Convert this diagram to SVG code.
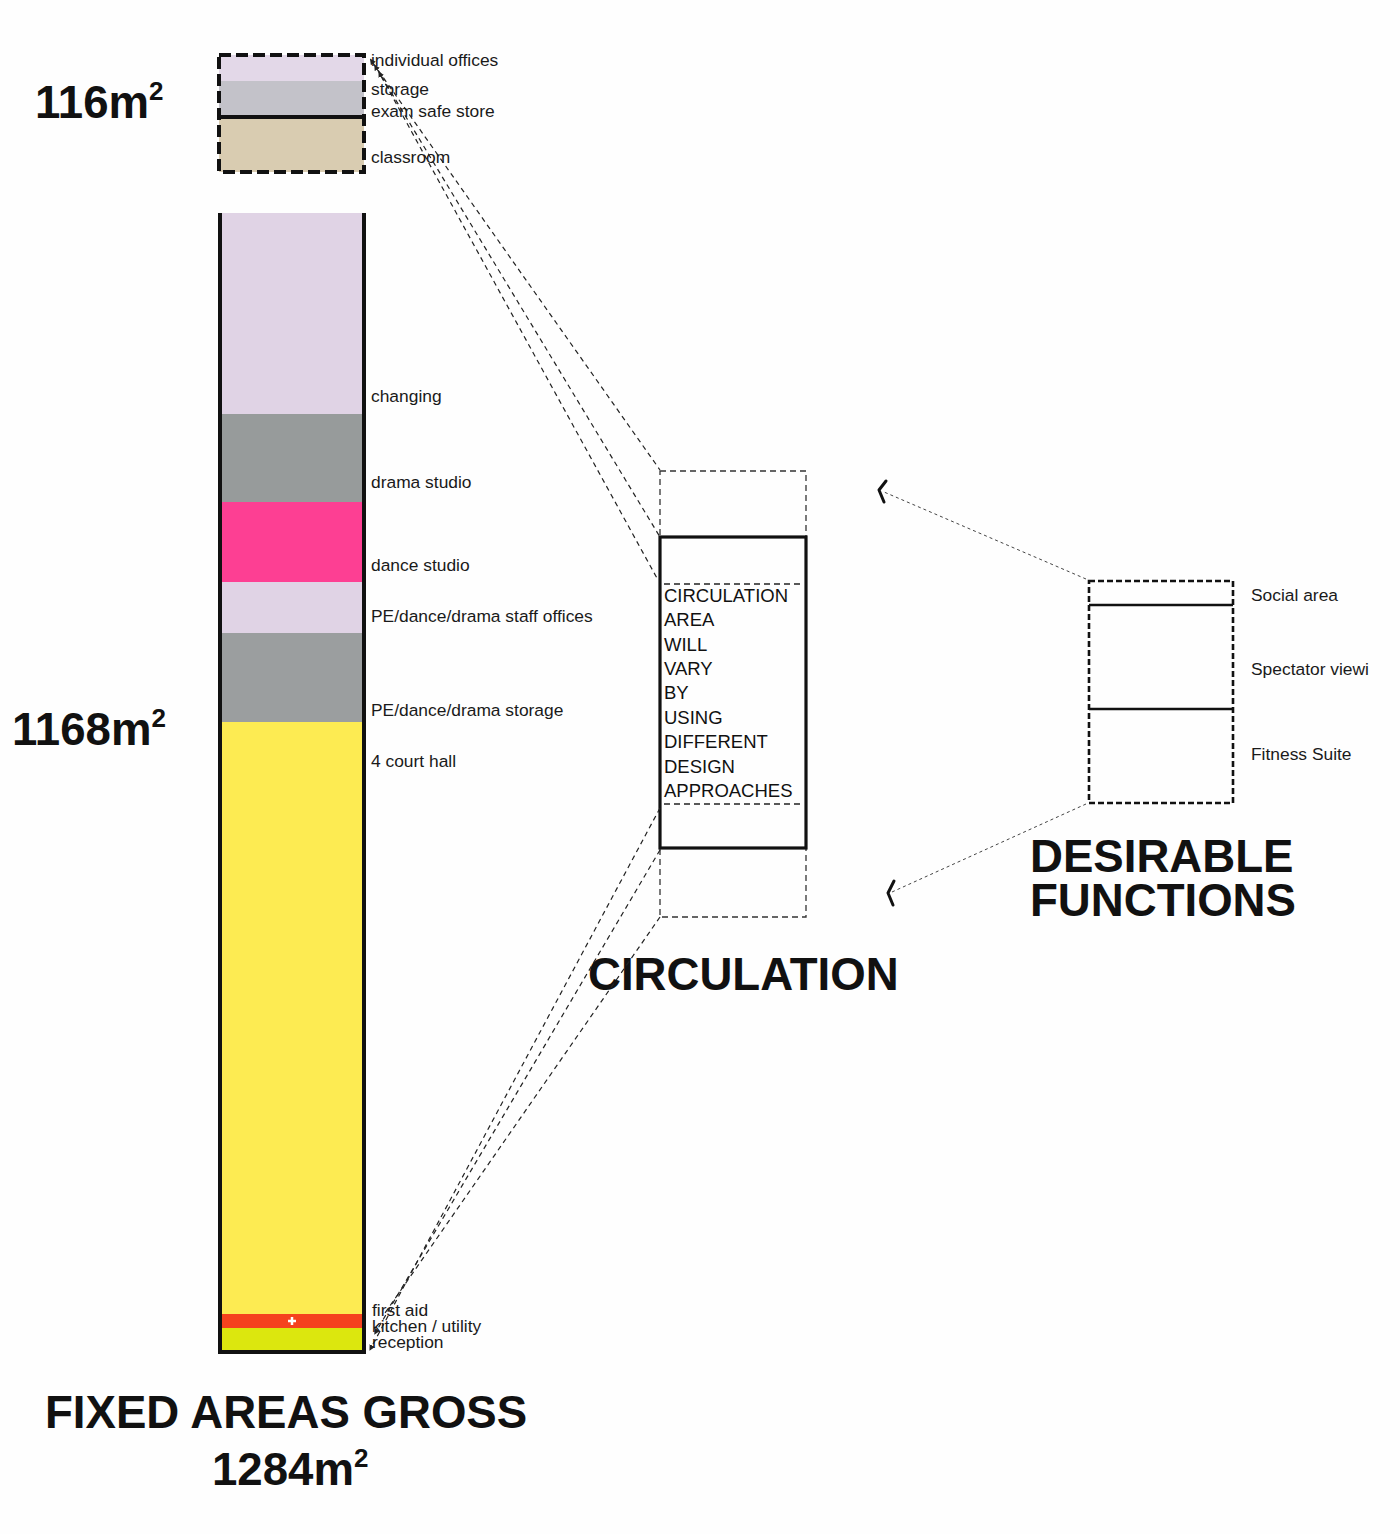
<svg xmlns="http://www.w3.org/2000/svg" width="1400" height="1534" viewBox="0 0 1400 1534">
<defs>
<style>
.lbl{font-family:"Liberation Sans",Arial,sans-serif;font-size:17.4px;fill:#1a1a1a}
.circ{font-family:"Liberation Sans",Arial,sans-serif;font-size:18.5px;fill:#111}
.big{font-family:"Liberation Sans",Arial,sans-serif;font-weight:bold;font-size:45.6px;fill:#111}
.sup{font-size:26px}
.con{fill:none;stroke:#222;stroke-width:1.2;stroke-dasharray:5 4}
.con2{fill:none;stroke:#444;stroke-width:1;stroke-dasharray:3 3}
.chev{fill:none;stroke:#111;stroke-width:3;stroke-linecap:round;stroke-linejoin:round}
</style>
<marker id="ah" viewBox="0 0 10 10" refX="1" refY="5" markerWidth="5" markerHeight="5" orient="auto-start-reverse">
<path d="M0,0 L10,5 L0,10 z" fill="#222"/>
</marker>
</defs>
<rect width="1400" height="1534" fill="#fefefe"/>

<g id="optional-areas">
<rect x="219" y="55" width="145" height="26" fill="#e3d8e8"/>
<rect x="219" y="81" width="145" height="36" fill="#c3c2c9"/>
<rect x="219" y="117" width="145" height="55" fill="#d9ccb1"/>
<rect x="219" y="55" width="145" height="117" fill="none" stroke="#111" stroke-width="4" stroke-dasharray="12 5"/>
<line x1="219" y1="117" x2="364" y2="117" stroke="#111" stroke-width="4"/>
<text class="lbl" x="371" y="66">individual offices</text>
<text class="lbl" x="371" y="95">storage</text>
<text class="lbl" x="371" y="117">exam safe store</text>
<text class="lbl" x="371" y="163">classroom</text>
<text class="big" x="35" y="118" font-size="44">116m<tspan class="sup" dy="-18">2</tspan></text>
</g>

<g id="fixed-areas">
<rect x="221" y="213" width="142" height="201" fill="#e0d3e5"/>
<rect x="221" y="414" width="142" height="88" fill="#979b9b"/>
<rect x="221" y="502" width="142" height="80" fill="#fd3f93"/>
<rect x="221" y="582" width="142" height="51" fill="#e0d3e5"/>
<rect x="221" y="633" width="142" height="89" fill="#9b9e9f"/>
<rect x="221" y="722" width="142" height="592" fill="#fdeb52"/>
<rect x="221" y="1314" width="142" height="14" fill="#f5421e"/>
<rect x="221" y="1328" width="142" height="23" fill="#dce70e"/>
<path d="M288,1321 h8 M292,1317 v8" stroke="#fff" stroke-width="2.5"/>
<path d="M220,213 V1352 H364 V213" fill="none" stroke="#111" stroke-width="4"/>
<text class="lbl" x="371" y="402">changing</text>
<text class="lbl" x="371" y="488">drama studio</text>
<text class="lbl" x="371" y="571">dance studio</text>
<text class="lbl" x="371" y="622">PE/dance/drama staff offices</text>
<text class="lbl" x="371" y="716">PE/dance/drama storage</text>
<text class="lbl" x="371" y="767">4 court hall</text>
<text class="lbl" x="372" y="1316">first aid</text>
<text class="lbl" x="372" y="1332">kitchen / utility</text>
<text class="lbl" x="372" y="1348">reception</text>
<text class="big" x="12" y="745" font-size="44">1168m<tspan class="sup" dy="-18">2</tspan></text>
<text class="big" x="45" y="1428" font-size="46.6">FIXED AREAS GROSS</text>
<text class="big" x="212" y="1485" font-size="44">1284m<tspan class="sup" dy="-18">2</tspan></text>
</g>

<g id="circulation">
<rect x="660" y="471" width="146" height="446" fill="none" stroke="#333" stroke-width="1.3" stroke-dasharray="6 4"/>
<rect x="660" y="537" width="146" height="311" fill="#fefefe" stroke="#111" stroke-width="3.2"/>
<line x1="664" y1="584" x2="803" y2="584" stroke="#222" stroke-width="1.3" stroke-dasharray="6 4"/>
<line x1="664" y1="804" x2="803" y2="804" stroke="#222" stroke-width="1.3" stroke-dasharray="6 4"/>
<text class="circ" x="664" y="602">CIRCULATION</text>
<text class="circ" x="664" y="626">AREA</text>
<text class="circ" x="664" y="651">WILL</text>
<text class="circ" x="664" y="675">VARY</text>
<text class="circ" x="664" y="699">BY</text>
<text class="circ" x="664" y="724">USING</text>
<text class="circ" x="664" y="748">DIFFERENT</text>
<text class="circ" x="664" y="773">DESIGN</text>
<text class="circ" x="664" y="797">APPROACHES</text>
<text class="big" x="588" y="990" font-size="46.2">CIRCULATION</text>
</g>

<g id="desirable-functions">
<rect x="1089" y="581" width="144" height="222" fill="none" stroke="#111" stroke-width="2.6" stroke-dasharray="6 3"/>
<line x1="1089" y1="605" x2="1233" y2="605" stroke="#111" stroke-width="2.6"/>
<line x1="1089" y1="709" x2="1233" y2="709" stroke="#111" stroke-width="2.6"/>
<text class="lbl" x="1251" y="601">Social area</text>
<text class="lbl" x="1251" y="675">Spectator viewi</text>
<text class="lbl" x="1251" y="760">Fitness Suite</text>
<text class="big" x="1030" y="872">DESIRABLE</text>
<text class="big" x="1030" y="916">FUNCTIONS</text>
</g>

<g id="connectors">
<line class="con" x1="373" y1="63" x2="660" y2="470" marker-start="url(#ah)"/>
<line class="con" x1="377" y1="69" x2="660" y2="537" marker-start="url(#ah)"/>
<line class="con" x1="381" y1="76" x2="658" y2="580" marker-start="url(#ah)"/>
<line class="con" x1="660" y1="808" x2="372" y2="1346" marker-end="url(#ah)"/>
<line class="con" x1="660" y1="850" x2="377" y2="1330" marker-end="url(#ah)"/>
<line class="con" x1="660" y1="917" x2="385" y2="1313"/>
<line class="con2" x1="1086" y1="579" x2="884" y2="492"/>
<line class="con2" x1="1086" y1="804" x2="892" y2="892"/>
<polyline class="chev" points="886,481 879,490 884,502"/>
<polyline class="chev" points="894,881 888,893 893,905"/>
</g>
</svg>
